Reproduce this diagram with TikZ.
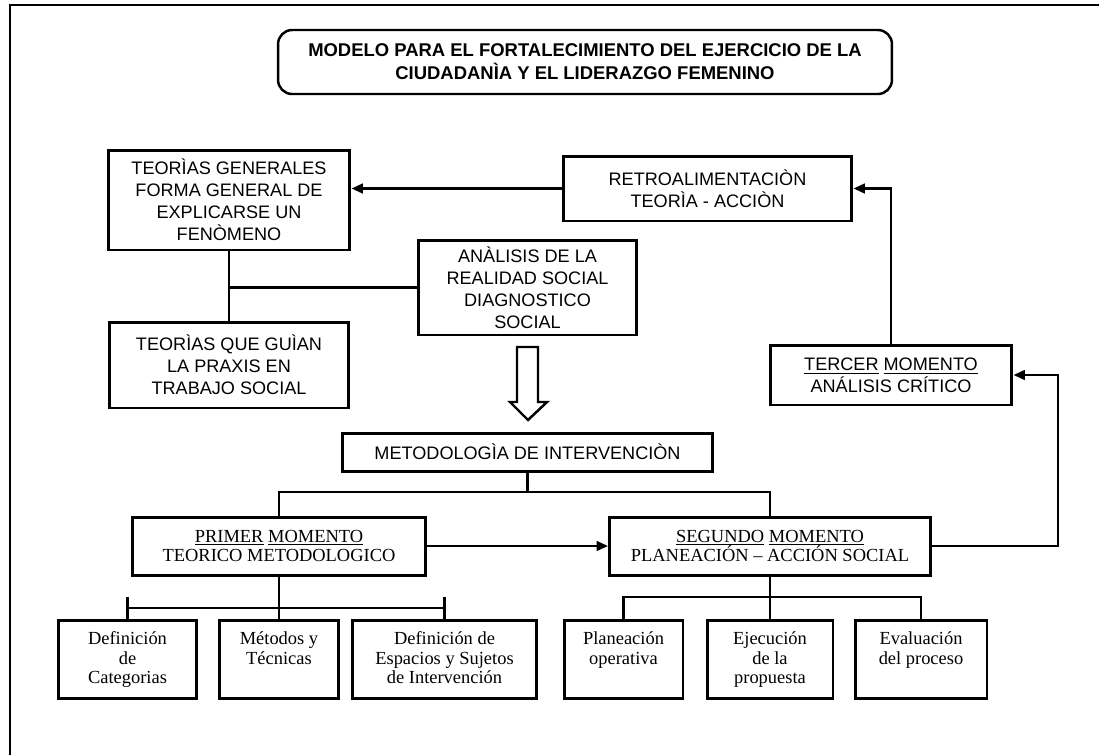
\documentclass[tikz,border=0pt]{standalone}
\usepackage{fontspec}
\setmainfont{Liberation Serif}
\newfontfamily\arial{Liberation Sans}
\usetikzlibrary{positioning,arrows.meta}

\tikzset{
	caja/.style={draw, line width=1.7pt, align=center, inner sep=0pt},
	sans/.style={caja, font=\arial\fontsize{10.3}{12.5}\selectfont},
	serif/.style={caja, font=\fontsize{10.5}{11.2}\selectfont},
	linea/.style={line width=1.4pt},
}
\newcommand{\arriba}[2]{\parbox[c][1.1cm][t]{#1}{\centering #2}}

\begin{document}
\begin{tikzpicture}[x=0.02cm, y=-0.02cm, >={Triangle[length=6.5pt,width=5.5pt]}]
		\useasboundingbox (0,0) rectangle (1099,755);
		\draw[linea] (10,755) -- (10,5) -- (1099,5);
		
		\node[caja, line width=1.4pt, rounded corners=8pt, font=\arial\bfseries\fontsize{10.5}{13}\selectfont, minimum width=12.28cm, minimum height=1.28cm] (titulo) at (585,62) {MODELO PARA EL FORTALECIMIENTO DEL EJERCICIO DE LA\\CIUDADANÌA Y EL LIDERAZGO FEMENINO};
		
		\node[sans, minimum width=4.84cm, minimum height=2cm] (teogen) at (229,200) {TEORÌAS GENERALES\\FORMA GENERAL DE\\EXPLICARSE UN\\FENÒMENO};
		\node[sans, minimum width=4.8cm, minimum height=1.72cm] (teoguia) at (229,365) {TEORÌAS QUE GUÌAN\\LA PRAXIS EN\\TRABAJO SOCIAL};
		\node[sans, minimum width=4.38cm, minimum height=1.9cm] (analisis) at (527.5,287.5) {ANÀLISIS DE LA\\REALIDAD SOCIAL\\DIAGNOSTICO\\SOCIAL};
		\node[sans, minimum width=5.78cm, minimum height=1.3cm] (retro) at (707.5,188.5) {RETROALIMENTACIÒN\\TEORÌA - ACCIÒN};
		\node[sans, minimum width=4.84cm, minimum height=1.2cm] (tercer) at (891,375) {\underline{TERCER} \underline{MOMENTO}\\ANÁLISIS CRÍTICO};
		\node[sans, minimum width=7.42cm, minimum height=0.76cm] (metod) at (527.5,452) {METODOLOGÌA DE INTERVENCIÒN};
		
		\node[serif, minimum width=5.88cm, minimum height=1.16cm] (primer) at (279,546) {\underline{PRIMER} \underline{MOMENTO}\\TEORICO METODOLOGICO};
		\node[serif, minimum width=6.42cm, minimum height=1.16cm] (segundo) at (770,546) {\underline{SEGUNDO} \underline{MOMENTO}\\PLANEACIÓN -- ACCIÓN SOCIAL};
		
		\node[serif, minimum width=2.78cm, minimum height=1.56cm] (defcat) at (127.5,659) {\arriba{2.6cm}{Definición\\de\\Categorias}};
		\node[serif, minimum width=2.38cm, minimum height=1.56cm] (metodos) at (279,659) {\arriba{2.2cm}{Métodos y\\Técnicas}};
		\node[serif, minimum width=3.7cm, minimum height=1.56cm] (espacios) at (444.5,659) {\arriba{3.6cm}{Definición de\\Espacios y Sujetos\\de Intervención}};
		\node[serif, minimum width=2.38cm, minimum height=1.56cm] (planea) at (623.5,659) {\arriba{2.2cm}{Planeación\\operativa}};
		\node[serif, minimum width=2.52cm, minimum height=1.56cm] (ejec) at (770,659) {\arriba{2.4cm}{Ejecución\\de la\\propuesta}};
		\node[serif, minimum width=2.64cm, minimum height=1.56cm] (evalua) at (921,659) {\arriba{2.5cm}{Evaluación\\del proceso}};
		
		\coordinate (rama) at (527.5,492);
		\coordinate (ramaII) at (770,597);
		\coordinate (tope) at (0,597);
		\coordinate (ramaI) at (0,608);
		\coordinate (vuelta) at (1058,375);
		
		\draw[linea, ->] (retro.west) -- (retro.west -| teogen.east);
		\draw[linea, ->] (tercer.north) |- (retro.east);
		\draw[linea, ->] (segundo.east) -| (vuelta) -- (tercer.east);
		\draw[linea, ->] (primer.east) -- (segundo.west);
		
		\draw[linea] (teogen.south) -- (teoguia.north);
		\draw[linea] (analisis.west) -- (analisis.west -| teogen.south);
		
		\draw[linea] (metod.south) -- (rama);
		\draw[linea] (primer.north) |- (rama) -| (segundo.north);
		
		\draw[linea] (primer.south) -- (metodos.north);
		\draw[linea] (defcat.north |- ramaI) -- (espacios.north |- ramaI);
		\draw[linea] (defcat.north) -- (defcat.north |- tope);
		\draw[linea] (espacios.north) -- (espacios.north |- tope);
		
		\draw[linea] (segundo.south) -- (ejec.north);
		\draw[linea] (planea.north) |- (ramaII) -| (evalua.north);
		
		\draw[linea] (517,347) -- (538,347) -- (538,402) -- (547,402) -- (528,420) -- (510,402) -- (517,402) -- cycle;
	\end{tikzpicture}
\end{document}
